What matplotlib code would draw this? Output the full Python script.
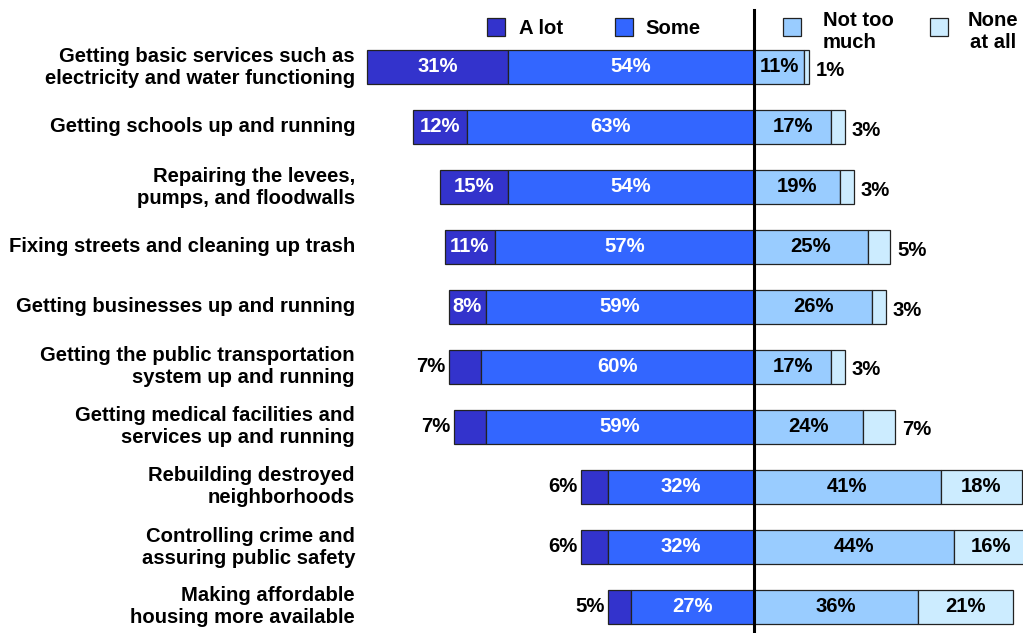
import numpy as np
import matplotlib.pyplot as plt
from matplotlib.patches import Rectangle

plt.rcParams['font.family'] = ['Liberation Sans', 'DejaVu Sans']
plt.rcParams['font.weight'] = 'bold'

categories = [
    'Getting basic services such as\nelectricity and water functioning',
    'Getting schools up and running',
    'Repairing the levees,\npumps, and floodwalls',
    'Fixing streets and cleaning up trash',
    'Getting businesses up and running',
    'Getting the public transportation\nsystem up and running',
    'Getting medical facilities and\nservices up and running',
    'Rebuilding destroyed\nneighborhoods',
    'Controlling crime and\nassuring public safety',
    'Making affordable\nhousing more available',
]
a_lot = [31, 12, 15, 11, 8, 7, 7, 6, 6, 5]
some = [54, 63, 54, 57, 59, 60, 59, 32, 32, 27]
not_too_much = [11, 17, 19, 25, 26, 17, 24, 41, 44, 36]
none_at_all = [1, 3, 3, 5, 3, 3, 7, 18, 16, 21]
series_names = ['A lot', 'Some', 'Not too\nmuch', 'None\nat all']
colors = ['#3333CC', '#3366FF', '#99CCFF', '#CCECFF']

W, H = 1023, 633
center_px, px_per = 754, 4.55
row0_px, row_px = 67, 60

fig = plt.figure(figsize=(W / 100, H / 100), dpi=100)
ax = fig.add_axes([0, 0, 1, 1])
ax.set_xlim(-center_px / px_per, (W - center_px) / px_per)
ax.set_ylim((H - row0_px) / row_px, -row0_px / row_px)
ax.axis('off')

y = np.arange(len(categories))
a = np.array(a_lot)
s = np.array(some)
n = np.array(not_too_much)
z = np.array(none_at_all)
h = 0.57
kw = dict(height=h, edgecolor='#222222', linewidth=0.9)
ax.barh(y, -a, left=-s, color=colors[0], **kw)
ax.barh(y, -s, color=colors[1], **kw)
ax.barh(y, n, color=colors[2], **kw)
ax.barh(y, z, left=n, color=colors[3], **kw)

fs = 14.6
for i in y:
    if a[i] >= 8:
        ax.text(-s[i] - a[i] / 2, i, f'{a[i]}%', color='white', ha='center', va='center', fontsize=fs)
    else:
        ax.text(-s[i] - a[i] - 0.8, i, f'{a[i]}%', color='black', ha='right', va='center', fontsize=fs)
    ax.text(-s[i] / 2, i, f'{s[i]}%', color='white', ha='center', va='center', fontsize=fs)
    ax.text(n[i] / 2, i, f'{n[i]}%', color='black', ha='center', va='center', fontsize=fs)
    if z[i] >= 10:
        ax.text(n[i] + z[i] / 2, i, f'{z[i]}%', color='black', ha='center', va='center', fontsize=fs)
    else:
        ax.text(n[i] + z[i] + 1.5, i + 0.05, f'{z[i]}%', color='black', ha='left', va='center', fontsize=fs)
    ax.text(-(center_px - 355) / px_per, i, categories[i], ha='right', va='center',
            fontsize=fs, linespacing=1.2)

ax.axvline(0, ymin=0, ymax=1 - 10 / H, color='black', linewidth=2.2)

# legend, drawn by hand to match the original layout
box_x = [487, 615, 783, 930]
text_x = [519, 645, 823, 968]
for bx, tx, name, c in zip(box_x, text_x, series_names, colors):
    fig.patches.append(Rectangle((bx / W, 1 - 36 / H), 18 / W, 18 / H, transform=fig.transFigure,
                                 facecolor=c, edgecolor='#222222', linewidth=0.9))
    ty = 31 if '\n' in name else 28
    fig.text(tx / W, 1 - ty / H, name, ha='left', va='center', fontsize=fs,
             linespacing=1.2, multialignment='center' if name.startswith('None') else 'left')

fig.savefig('out.png', dpi=100)
